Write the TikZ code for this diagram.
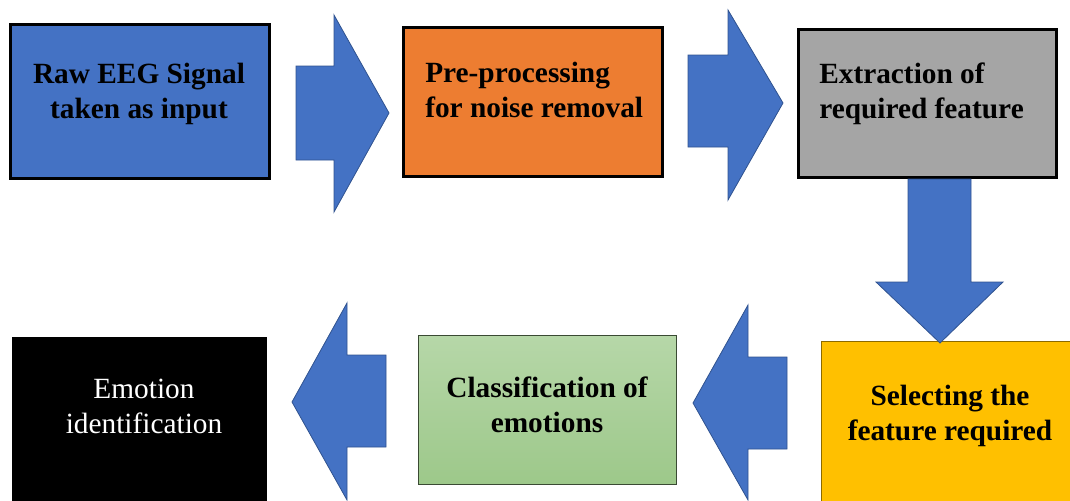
\documentclass[tikz,border=0pt]{standalone}
\usepackage{fontspec}
\setmainfont{Liberation Serif}
\definecolor{arrowblue}{HTML}{4472C4}
\definecolor{arrowedge}{HTML}{2F528F}
\definecolor{boxblue}{HTML}{4472C4}
\definecolor{boxorange}{HTML}{ED7D31}
\definecolor{boxgray}{HTML}{A5A5A5}
\definecolor{boxyellow}{HTML}{FFC000}
\definecolor{yellowedge}{HTML}{8C6A00}
\definecolor{greentop}{HTML}{B6D7A8}
\definecolor{greenbot}{HTML}{9DC88A}
\definecolor{greenedge}{HTML}{3A4A33}
\begin{document}
\begin{tikzpicture}[x=0.75pt,y=-0.75pt,
  stepbox/.style={draw=black, line width=2.2pt, inner sep=0pt},
  thinbox/.style={line width=0.9pt, inner sep=0pt},
  blockarrow/.style={fill=arrowblue, draw=arrowedge, line width=0.6pt, line join=miter},
  lbl/.style={font=\fontsize{22}{26.25}\selectfont\bfseries, inner sep=0pt, text=black}]
\useasboundingbox (0,0) rectangle (1070,500);
\clip (0,0) rectangle (1070,500);

% boxes
\node[stepbox, fill=boxblue, minimum width=194.25pt, minimum height=115.5pt] (b1) at (140,101.5) {};
\node[stepbox, fill=boxorange, minimum width=194.25pt, minimum height=111.75pt] (b2) at (533,102) {};
\node[stepbox, fill=boxgray, minimum width=193.5pt, minimum height=111pt] (b3) at (927.5,103.5) {};
\node[thinbox, draw=yellowedge, fill=boxyellow, minimum width=193.9pt, minimum height=126.4pt] (b4) at (950.75,425.75) {};
\node[thinbox, draw=greenedge, top color=greentop, bottom color=greenbot, minimum width=193.1pt, minimum height=111.4pt] (b5) at (547.5,410) {};
\node[inner sep=0pt, fill=black, minimum width=191.25pt, minimum height=129.75pt] (b6) at (139.5,423.5) {};

% block arrows
\coordinate (a1) at (296,113);
\draw[blockarrow] (a1) ++(0,-47) -- ++(38,0) -- ++(0,-51) -- (389,113) -- (334,212) -- (334,160) -- (296,160) -- cycle;
\coordinate (a2) at (688,101);
\draw[blockarrow] (a2) ++(0,-46) -- ++(40,0) -- (728,10) -- (783,103) -- (728,200) -- (728,147) -- (688,147) -- cycle;
\coordinate (a3) at (908,179);
\draw[blockarrow] (a3) -- (971,179) -- (971,282) -- (1003,282) -- (940,343) -- (876,282) -- (908,282) -- cycle;
\coordinate (a4) at (787,357);
\draw[blockarrow] (a4) -- (787,449) -- (748,449) -- (748,500) -- (693,403) -- (748,305) -- (748,357) -- cycle;
\coordinate (a5) at (386,355);
\draw[blockarrow] (a5) -- (386,447) -- (347,447) -- (347,500) -- (292,402) -- (347,303) -- (347,355) -- cycle;

% labels
\node[lbl, anchor=base] (t1) at (139,83) {\begin{tabular}[t]{@{}c@{}}Raw EEG Signal\\taken as input\end{tabular}};
\node[lbl, anchor=base west] (t2) at (425,82) {\begin{tabular}[t]{@{}l@{}}Pre-processing\\for noise removal\end{tabular}};
\node[lbl, anchor=base west] (t3) at (819,83) {\begin{tabular}[t]{@{}l@{}}Extraction of\\required feature\end{tabular}};
\node[lbl, anchor=base] (t4) at (950,405) {\begin{tabular}[t]{@{}c@{}}Selecting the\\feature required\end{tabular}};
\node[lbl, anchor=base] (t5) at (547,397) {\begin{tabular}[t]{@{}c@{}}Classification of\\emotions\end{tabular}};
\node[lbl, anchor=base, font=\fontsize{22}{26.25}\selectfont\mdseries, text=white] (t6) at (144,398) {\begin{tabular}[t]{@{}c@{}}Emotion\\identification\end{tabular}};
\end{tikzpicture}
\end{document}
